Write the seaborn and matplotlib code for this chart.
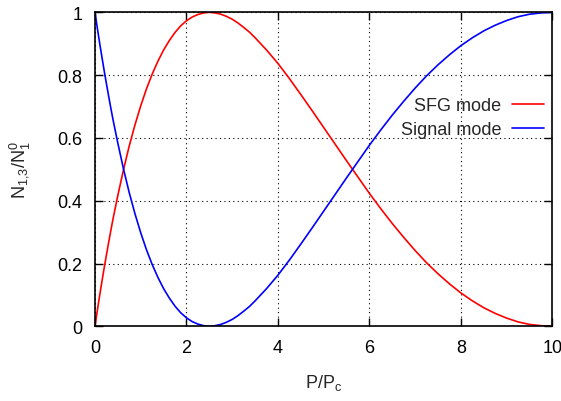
import numpy as np
import pandas as pd
import matplotlib
matplotlib.use("Agg")
import matplotlib.pyplot as plt
import seaborn as sns

# values
p_ratio = [0, 0.05, 0.1, 0.15, 0.2, 0.25, 0.3, 0.35, 0.4, 0.5, 0.625, 0.75, 0.875,
           1.0, 1.125, 1.25, 1.375, 1.5, 1.625, 1.75, 1.875, 2.0, 2.125, 2.25, 2.375,
           2.5, 2.625, 2.75, 2.875, 3.0, 3.125, 3.25, 3.375, 3.5, 3.75, 4.0, 4.25,
           4.5, 4.75, 5.0, 5.25, 5.5, 5.75, 6.0, 6.25, 6.5, 6.75, 7.0, 7.25, 7.5,
           7.75, 8.0, 8.25, 8.5, 8.75, 9.0, 9.25, 9.5, 9.75, 10.0]
sfg_mode = [0, 0.049, 0.096, 0.141, 0.185, 0.227, 0.268, 0.308, 0.346, 0.417, 0.500,
            0.575, 0.642, 0.702, 0.756, 0.803, 0.844, 0.880, 0.910, 0.936, 0.957,
            0.973, 0.985, 0.993, 0.998, 1.0, 0.998, 0.994, 0.987, 0.978, 0.966,
            0.952, 0.937, 0.919, 0.880, 0.837, 0.789, 0.738, 0.686, 0.633, 0.580,
            0.527, 0.475, 0.423, 0.374, 0.327, 0.283, 0.241, 0.202, 0.167, 0.135,
            0.106, 0.081, 0.059, 0.041, 0.026, 0.014, 0.006, 0.002, 0]
signal_mode = [1.0, 0.951, 0.904, 0.859, 0.815, 0.773, 0.732, 0.692, 0.654, 0.583,
               0.500, 0.425, 0.358, 0.298, 0.244, 0.197, 0.156, 0.120, 0.090, 0.064,
               0.043, 0.027, 0.015, 0.007, 0.002, 0, 0.002, 0.006, 0.013, 0.022,
               0.034, 0.048, 0.063, 0.081, 0.120, 0.163, 0.211, 0.262, 0.314, 0.367,
               0.420, 0.473, 0.525, 0.577, 0.626, 0.673, 0.717, 0.759, 0.798, 0.833,
               0.865, 0.894, 0.919, 0.941, 0.959, 0.974, 0.986, 0.994, 0.998, 1.0]

df = pd.DataFrame({"x": p_ratio * 2,
                   "y": sfg_mode + signal_mode,
                   "mode": ["SFG mode"] * len(p_ratio) + ["Signal mode"] * len(p_ratio)})

sns.set_style("ticks")
plt.rcParams["font.family"] = ["Liberation Sans", "DejaVu Sans"]
plt.rcParams["font.size"] = 13

fig = plt.figure(figsize=(5.61, 4.02), dpi=100)
ax = fig.add_axes([0.1693, 0.1858, 0.8155, 0.7811])

sns.lineplot(data=df, x="x", y="y", hue="mode", sort=False,
             palette={"SFG mode": "#ff0000", "Signal mode": "#0000ff"},
             linewidth=1.2, ax=ax)

ax.set_xlim(0, 10)
ax.set_ylim(0, 1)
ax.set_xticks([0, 2, 4, 6, 8, 10])
ax.set_yticks([0, 0.2, 0.4, 0.6, 0.8, 1])
ax.set_xticklabels(["0", "2", "4", "6", "8", "10"])
ax.set_yticklabels(["0", "0.2", "0.4", "0.6", "0.8", "1"])
ax.grid(True, color="black", linestyle=(0, (1, 3)), linewidth=0.8)
ax.tick_params(direction="in", length=6, width=1, top=True, right=True,
               labelsize=13, pad=9, colors="black")
for s in ax.spines.values():
    s.set_linewidth(1.2)
    s.set_color("black")

ax.set_xlabel("P/P$_\\mathregular{c}$", fontsize=13, labelpad=12)
ax.set_ylabel("N$_\\mathregular{1{,}3}$/N$_\\mathregular{1}^\\mathregular{0}$",
              fontsize=13, labelpad=18)

ax.legend(loc="upper right", bbox_to_anchor=(1.016, 0.781), frameon=False,
          markerfirst=False, handlelength=1.75, handletextpad=0.6,
          labelspacing=0.37, fontsize=13, title=None)

fig.savefig("out.png", dpi=100)
